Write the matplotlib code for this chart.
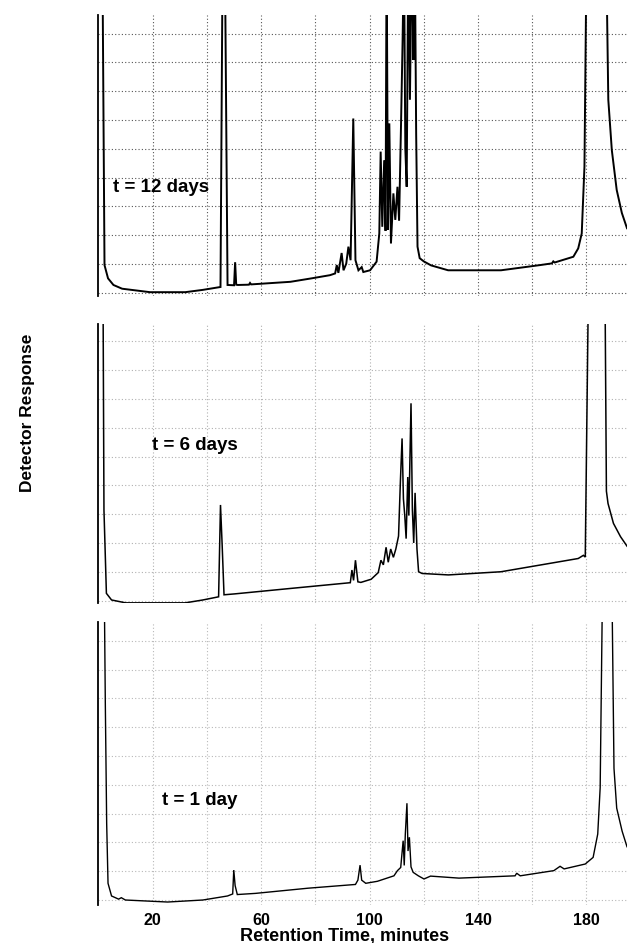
import matplotlib
matplotlib.use("Agg")
import matplotlib.pyplot as plt

plt.rcParams['font.family'] = ['Liberation Sans', 'DejaVu Sans']

# retention time (min) and detector response (grid units, off-scale peaks clipped at the top)
t12_time = [-0.3, 0.5, 1.4, 2.2, 3.5, 5.5, 8.7, 19.0, 32.0, 38.5, 45.0, 45.8, 46.6, 47.6, 50.0, 50.4,
            50.8, 51.4, 55.5, 55.9, 56.3, 70.8, 78.6, 85.4, 87.3, 87.9, 88.5, 89.7, 90.4, 91.4, 92.2,
            93.0, 94.0, 94.8, 95.9, 97.1, 97.7, 100.2, 102.6, 103.6, 104.1, 104.7, 105.4, 105.9, 106.3,
            106.8, 107.3, 107.9, 108.8, 109.5, 110.3, 110.9, 111.6, 112.2, 112.7, 113.2, 113.7, 114.3,
            114.9, 115.6, 116.2, 116.7, 117.2, 117.7, 118.5, 120.0, 122.7, 129.0, 148.5, 162.9, 167.3,
            167.8, 168.3, 175.2, 177.0, 178.3, 179.3, 180.1, 187.3, 188.1, 189.4, 191.2, 193.1, 195.0]
t12_resp = [120, 120, 120, 9.6, 5.0, 2.7, 1.4, 0.2, 0.2, 1.0, 2.0, 120, 120, 2.7, 2.6, 10.6,
            2.8, 2.7, 2.8, 3.4, 2.9, 3.8, 5.0, 6.1, 6.7, 9.6, 6.9, 13.8, 7.8, 10.1, 16.0,
            11.3, 60.5, 11.3, 7.8, 8.9, 7.2, 7.8, 10.8, 20.6, 49.0, 22.9, 46.0, 21.5, 120,
            21.8, 58.8, 17.1, 34.5, 25.3, 36.8, 25.0, 57.7, 87.7, 120, 50.0, 36.8, 120,
            67.0, 120, 80.8, 120, 55.3, 16.0, 12.0, 10.9, 9.5, 7.8, 7.8, 9.6, 10.2,
            10.9, 10.5, 12.5, 15.4, 20.6, 43.8, 120, 120, 67.0, 49.5, 35.7, 27.7, 22.4]

t6_time = [0.2, 0.7, 1.6, 2.0, 2.9, 4.8, 10.0, 32.0, 38.5, 44.3, 45.0, 45.6, 46.3, 50.1, 70.8, 92.9,
           93.5, 94.1, 94.8, 95.7, 96.8, 100.6, 103.2, 104.2, 105.1, 106.1, 106.9, 107.8, 108.8, 109.7,
           110.7, 111.4, 112.0, 112.5, 113.0, 113.5, 114.1, 114.5, 115.3, 115.8, 116.3, 116.8, 117.5,
           118.1, 119.4, 129.1, 148.5, 177.0, 178.9, 179.6, 180.9, 186.8, 187.4, 188.0, 190.0, 192.6, 195.0]
t6_resp = [120, 120, 120, 31.4, 2.5, 0.2, -0.8, -0.8, 0.2, 1.3, 33.2, 19.6, 2.0, 2.3, 4.2, 6.2,
           10.6, 7.0, 14.0, 6.5, 6.3, 7.4, 9.7, 14.0, 12.4, 18.5, 13.3, 17.9, 15.0, 17.9,
           22.4, 41.8, 56.3, 35.3, 29.5, 21.5, 42.9, 29.5, 68.5, 31.7, 20.0, 37.4, 17.9,
           10.0, 9.4, 8.9, 10.0, 14.6, 15.7, 15.1, 120, 120, 38.0, 33.7, 26.8, 22.2, 18.9]

t1_time = [1.2, 2.0, 2.5, 3.0, 3.5, 4.8, 7.4, 8.4, 9.9, 25.5, 38.5, 47.6, 49.5, 49.9, 50.4, 51.2,
           57.9, 77.3, 94.8, 95.7, 96.5, 97.1, 98.6, 102.9, 109.0, 110.3, 111.5, 112.4, 112.8, 113.2,
           113.8, 114.2, 114.7, 115.3, 116.1, 118.0, 120.1, 122.5, 133.0, 153.7, 154.3, 155.6, 168.0,
           170.3, 171.8, 179.6, 182.5, 184.2, 185.1, 186.1, 189.3, 190.2, 191.2, 193.2, 195.0]
t1_resp = [120, 120, 68.3, 26.6, 5.8, 1.4, 0.3, 0.8, 0.0, -0.7, 0.0, 1.4, 2.1, 10.4, 5.0, 1.9,
           2.3, 4.1, 5.4, 6.9, 12.1, 6.9, 5.8, 6.5, 8.4, 10.2, 11.3, 20.6, 12.0, 22.9,
           33.6, 17.0, 21.8, 11.5, 9.6, 8.4, 7.3, 8.3, 7.6, 8.4, 9.3, 8.4, 10.2,
           11.7, 10.8, 12.5, 14.8, 22.9, 39.0, 120, 120, 45.7, 31.9, 23.9, 18.5]

labels = ["t = 12 days", "t = 6 days", "t = 1 day"]
label_pos = [(5.4, 36.7), (19.7, 54.0), (23.6, 34.7)]
tick_vals = [20, 60, 100, 140, 180]
grid_x = [20, 40, 60, 80, 100, 120, 140, 160, 180]
grid_y = [0, 10, 20, 30, 40, 50, 60, 70, 80, 90]

fig = plt.figure(figsize=(6.27, 9.43), dpi=100)

boxes = [[0.1563, 0.6865, 0.8437, 0.2975],
         [0.1563, 0.3601, 0.8437, 0.2968],
         [0.1563, 0.0404, 0.8437, 0.3002]]
ylims = [(-1, 96.4), (-1, 96.2), (-1.7, 96.6)]
traces = [(t12_time, t12_resp), (t6_time, t6_resp), (t1_time, t1_resp)]
grid_colors = ['#555555', '#b0b0b0', '#b8b8b8']
line_w = [1.4, 1.1, 1.0]

for i in range(3):
    ax = fig.add_axes(boxes[i])
    for gx in grid_x:
        ax.axvline(gx, color=grid_colors[i], ls=(0, (1, 2)), lw=0.8, zorder=0)
    for gy in grid_y:
        ax.axhline(gy, color=grid_colors[i], ls=(0, (1, 2)), lw=0.8, zorder=0)
    t, r = traces[i]
    ax.plot(t, r, color='black', lw=line_w[i], solid_joinstyle='miter')
    ax.set_xlim(-0.2, 195)
    ax.set_ylim(*ylims[i])
    for s in ['top', 'right', 'bottom']:
        ax.spines[s].set_visible(False)
    ax.spines['left'].set_linewidth(1.3)
    ax.set_yticks([])
    ax.text(label_pos[i][0], label_pos[i][1], labels[i], fontsize=13.5, fontweight='bold',
            ha='left', va='center')
    if i == 2:
        ax.set_xticks(tick_vals)
        ax.set_xticklabels([str(v) for v in tick_vals], fontsize=11.5, fontweight='bold')
        ax.tick_params(axis='x', length=0, pad=6)
    else:
        ax.set_xticks([])

fig.text(0.549, 1 - 936 / 943, "Retention Time, minutes", fontsize=13, fontweight='bold',
         ha='center', va='center')
fig.text(28 / 627, 1 - 413 / 943, "Detector Response", fontsize=12.5, fontweight='bold',
         rotation=90, ha='center', va='center')

fig.savefig("out.png", dpi=100)
